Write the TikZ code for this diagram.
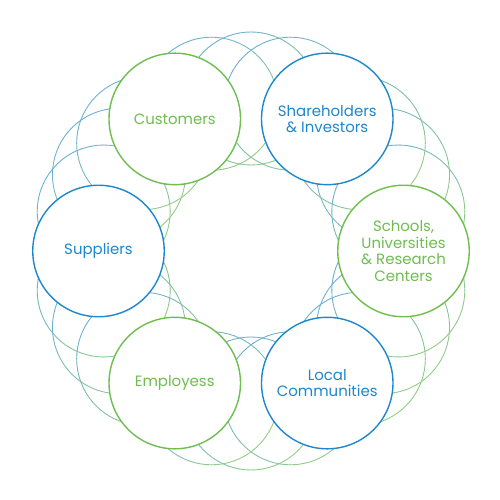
\documentclass[tikz,border=0pt]{standalone}
\usepackage{fontspec}
\setmainfont{Poppins}
\usepackage{xcolor}
\definecolor{ringgreen}{RGB}{110,190,80}
\definecolor{ringblue}{RGB}{30,135,205}
\definecolor{haloblue}{RGB}{105,175,215}
\definecolor{halogreen}{RGB}{145,205,130}
\usepackage{tikz}
\usetikzlibrary{positioning}

\begin{document}
\begin{tikzpicture}[
    stakeholder/.style={draw, circle, line width=0.8pt, fill=white, minimum size=2.63cm, inner sep=0pt, align=center, font=\fontsize{8.5}{9.4}\selectfont},
    greenring/.style={stakeholder, draw=ringgreen, text=ringgreen},
    bluering/.style={stakeholder, draw=ringblue, text=ringblue},
    halo/.style={line width=0.5pt, line cap=round}
]
\useasboundingbox (-5.02,-4.98) rectangle (4.98,5.02);

% Background halo circles
\foreach \t in {15,30,45,75,90,105,135,150,165,195,210,225,255,270,285,315,330,345} {
  \foreach \a in {0,10,...,350} {
    \pgfmathtruncatemacro\mix{min(100,max(0,50+50*(sin(\a+5)-cos(\a+5))/1.41421))}
    \draw[halo, color=haloblue!\mix!halogreen, shift={(\t:3.05)}] (\a:1.33) arc[start angle=\a, end angle=\a+10, radius=1.33];
  }
}

% Stakeholders
\node[greenring] (schools) at (0:3.05) {Schools,\\Universities\\\& Research\\Centers};
\node[bluering] (shareholders) at (60:3.05) {Shareholders\\\& Investors};
\node[greenring] (customers) at (120:3.05) {Customers};
\node[bluering] (suppliers) at (180:3.05) {Suppliers};
\node[greenring] (employees) at (240:3.05) {Employess};
\node[bluering] (communities) at (300:3.05) {Local\\Communities};

\end{tikzpicture}
\end{document}
